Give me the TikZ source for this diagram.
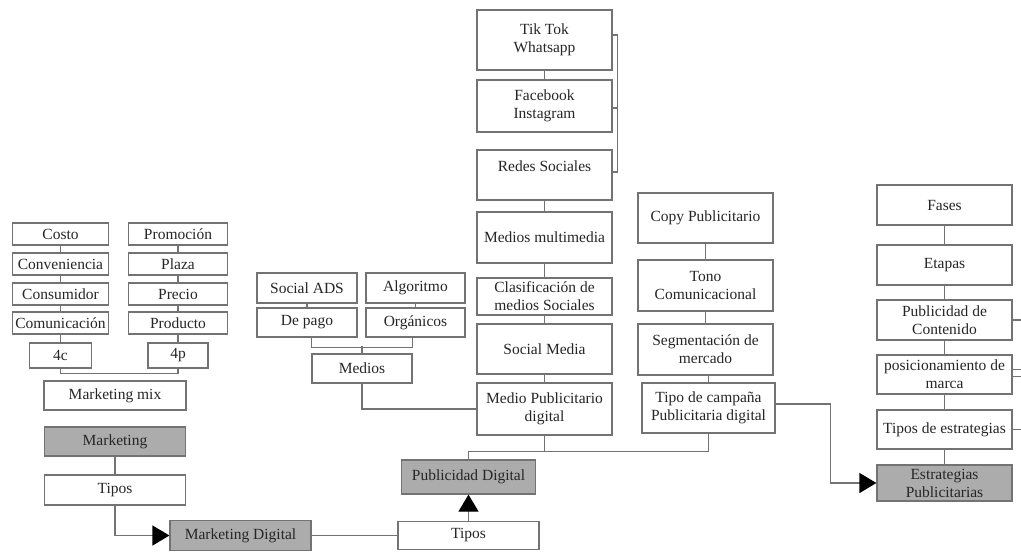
\documentclass[tikz,border=0pt]{standalone}
\usepackage{fontspec}
\setmainfont{Liberation Serif}
\usetikzlibrary{positioning,arrows.meta}

\tikzset{
  box/.style={draw=black!55, line width=1.2pt, fill=white, text=black!85, align=center, inner sep=1pt},
  dark/.style={box, fill=gray!65},
  small/.style={box, minimum width=96pt, minimum height=22pt},
  wide/.style={box, minimum width=135pt},
  line/.style={draw=black!55, line width=1.2pt},
  arr/.style={line, -{Triangle[length=17pt,width=20pt,color=black]}}
}

\begin{document}
\begin{tikzpicture}[x=1pt,y=-1pt,on grid,node distance=30pt,font=\fontsize{15.5}{18}\selectfont]
                      \useasboundingbox (0,0) rectangle (1021,552);
                      \node[small] (costo) at (60.5,234) {Costo};
                      \node[small] (conveniencia) [below=of costo] {Conveniencia};
                      \node[small] (consumidor) [below=of conveniencia] {Consumidor};
                      \node[small] (comunicacion) [below=29pt of consumidor] {Comunicación};
                      \node[box, minimum width=62pt, minimum height=25pt] (c4) [below=32.5pt of comunicacion] {4c};
                      \node[small, minimum width=99pt] (promocion) at (178,234) {Promoción};
                      \node[small, minimum width=99pt] (plaza) [below=of promocion] {Plaza};
                      \node[small, minimum width=99pt] (precio) [below=of plaza] {Precio};
                      \node[small, minimum width=99pt] (producto) [below=29pt of precio] {Producto};
                      \node[box, minimum width=60pt, minimum height=25pt] (p4) [below=32.5pt of producto] {4p};
                      \node[box, minimum width=142pt, minimum height=29pt] (mk_mix) at (115,395.5) {Marketing mix};
                      \node[dark, minimum width=141pt, minimum height=29pt] (marketing) [below=46pt of mk_mix] {Marketing};
                      \node[box, minimum width=141pt, minimum height=30pt] (tipos_a) [below=48.5pt of marketing] {Tipos};
                      \node[dark, minimum width=141pt, minimum height=30pt] (mk_digital) at (240.5,535.5) {Marketing Digital};
                      \node[box, minimum width=141pt, minimum height=28pt] (tipos_b) at (468.5,535.5) {Tipos};
                      \node[dark, minimum width=134pt, minimum height=34pt] (pub_digital) [above=58.5pt of tipos_b] {Publicidad Digital};
                      \node[box, minimum width=100pt, minimum height=30pt] (social_ads) at (307,288) {Social ADS};
                      \node[box, minimum width=99pt, minimum height=30pt] (algoritmo) at (415.5,288) {Algoritmo};
                      \node[box, minimum width=100pt, minimum height=29pt] (de_pago) [below=34.5pt of social_ads] {De pago};
                      \node[box, minimum width=99pt, minimum height=29pt] (organicos) [below=34.5pt of algoritmo] {Orgánicos};
                      \node[box, minimum width=100pt, minimum height=29pt] (medios) at (362,368.5) {Medios};
                      \node[wide, minimum height=60pt] (tiktok) at (544.5,40) {Tik Tok\\Whatsapp};
                      \node[wide, minimum height=52pt] (facebook) [below=66pt of tiktok] {Facebook\\Instagram};
                      \node[wide, minimum height=50pt] (redes) [below=69pt of facebook] {Redes Sociales\\~};
                      \node[wide, minimum height=51pt] (multimedia) [below=62.5pt of redes] {Medios multimedia};
                      \node[wide, minimum height=37pt] (clasificacion) [below=59pt of multimedia] {Clasificación de\\medios Sociales};
                      \node[wide, minimum height=50pt] (social_media) [below=52.5pt of clasificacion] {Social Media};
                      \node[wide, minimum height=52pt] (medio_pub) [below=60pt of social_media] {Medio Publicitario\\digital};
                      \node[wide, minimum height=50pt] (copy) at (705.5,218) {Copy Publicitario};
                      \node[wide, minimum height=51pt] (tono) [below=67.5pt of copy] {Tono\\Comunicacional};
                      \node[wide, minimum height=51pt] (segmentacion) [below=64pt of tono] {Segmentación de\\mercado};
                      \node[box, minimum width=133pt, minimum height=50pt] (campana) at (708.5,408) {Tipo de campaña\\Publicitaria digital};
                      \node[wide, minimum height=40pt] (fases) at (944.5,205) {Fases};
                      \node[wide, minimum height=40pt] (etapas) [below=60pt of fases] {Etapas};
                      \node[wide, minimum height=40pt] (contenido) [below=55pt of etapas] {Publicidad de\\Contenido};
                      \node[wide, minimum height=39pt] (posicionamiento) [below=54.5pt of contenido] {posicionamiento de\\marca};
                      \node[wide, minimum height=39pt] (tipos_estr) [below=55pt of posicionamiento] {Tipos de estrategias};
                      \node[dark, minimum width=135pt, minimum height=36pt] (estr_pub) [below=53.5pt of tipos_estr] {Estrategias\\Publicitarias};
                      \path[line]
                      (costo) edge (conveniencia)
                      (conveniencia) edge (consumidor)
                      (consumidor) edge (comunicacion)
                      (comunicacion) edge (c4)
                      (promocion) edge (plaza)
                      (plaza) edge (precio)
                      (precio) edge (producto)
                      (producto) edge (p4)
                      (marketing) edge (tipos_a)
                      (mk_digital) edge (tipos_b)
                      (social_ads) edge (de_pago)
                      (algoritmo) edge (organicos)
                      (tiktok) edge (facebook)
                      (redes) edge (multimedia)
                      (multimedia) edge (clasificacion)
                      (clasificacion) edge (social_media)
                      (social_media) edge (medio_pub)
                      (copy) edge (tono)
                      (tono) edge (segmentacion)
                      (fases) edge (etapas)
                      (etapas) edge (contenido)
                      (contenido) edge (posicionamiento)
                      (posicionamiento) edge (tipos_estr)
                      (tipos_estr) edge (estr_pub);
                      \draw[line] (c4.south) -- ++(0,5) -| (p4.south);
                      \draw[line] (de_pago.south -| medios.west) -- ++(0,10) -| (organicos.south -| medios.east);
                      \draw[line] (medios.north) -- ++(0,-7);
                      \draw[line] (medios.south) |- (medio_pub.west);
                      \draw[line] ([yshift=5pt]tiktok.east) -- ++(5,0) |- ([yshift=3pt]redes.east);
                      \draw[line] ([yshift=-2pt]facebook.east) -- ++(5,0);
                      \draw[line] (segmentacion.south -| campana.north) -- (campana.north);
                      \draw[line] (pub_digital.north) -- ++(0,-8) coordinate (j_pub) -| (campana.south);
                      \draw[line] (medio_pub.south) -- (medio_pub.south |- j_pub);
                      \draw[line] (contenido.east) -- ++(12,0);
                      \draw[line] ([yshift=5pt]posicionamiento.east) -- ++(12,0);
                      \draw[line] ([yshift=-2pt]posicionamiento.east) -- ++(12,0);
                      \draw[line] (tipos_estr.east) -- ++(12,0);
                      \draw[arr] (tipos_a.south) |- (mk_digital.west);
                      \draw[arr] (tipos_b.north) -- (pub_digital.south);
                      \draw[arr] ([yshift=4pt]campana.east) -- ++(55,0) |- (estr_pub.west);
                  \end{tikzpicture}
\end{document}
